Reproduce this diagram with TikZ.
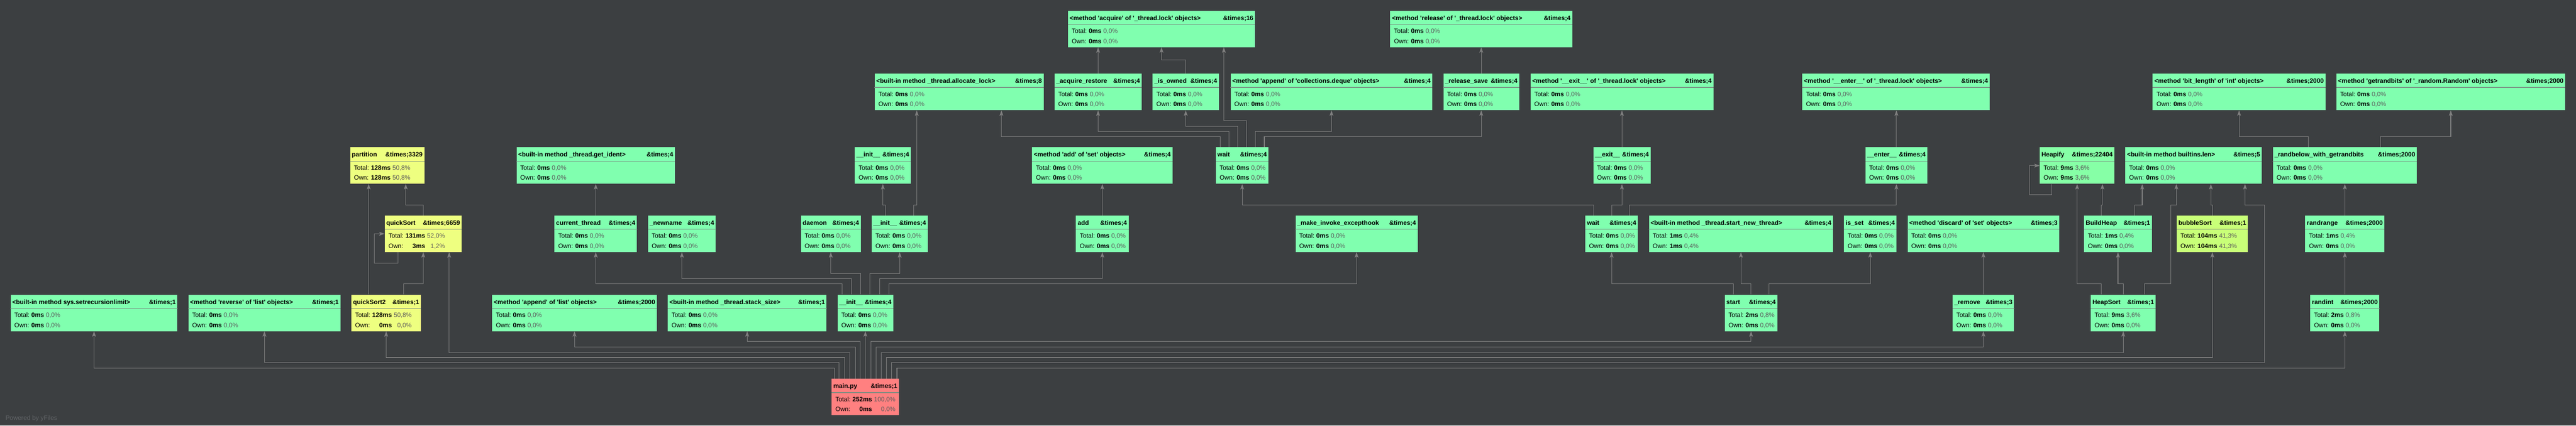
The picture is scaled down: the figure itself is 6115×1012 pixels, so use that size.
\documentclass[tikz,border=0pt]{standalone}
\usepackage{fontspec}
\usetikzlibrary{arrows.meta}
\newfontfamily\uifont{Liberation Sans}
\definecolor{bg}{HTML}{3C3F41}
\definecolor{gn}{HTML}{80FFAF}
\definecolor{yl}{HTML}{EEFF80}
\definecolor{yg}{HTML}{C8FF78}
\definecolor{hg}{HTML}{86FFA6}
\definecolor{rd}{HTML}{FF8080}
\definecolor{ln}{HTML}{808080}
\definecolor{pc}{HTML}{5C5C5C}
\definecolor{sp}{HTML}{7A8C80}
\definecolor{wm}{HTML}{606366}

\newcommand\statrows[4]{\begin{tabular}[t]{@{}l@{\hspace{4.5pt}}r@{\hspace{4.5pt}}r@{}}Total: & \textbf{#1} & \textcolor{pc}{#2\%}\\[7pt] Own: & \textbf{#3} & \textcolor{pc}{#4\%}\end{tabular}}
\newcommand\nost{{0ms}{0,0}{0ms}{0,0}}
\newcommand\callnode[7][fn]{%
  \node[#1, minimum width=#4pt] (#2) at (#3) {};
  \node[hd, anchor=base west] at ([shift={(4pt,-23pt)}]#2.north west) {#5};
  \node[hd, anchor=base east] at ([shift={(-4pt,-23pt)}]#2.north east) {\&times;#6};
  \draw[hsep] ([yshift=-33pt]#2.north west) -- ([yshift=-33pt]#2.north east);
  \node[bd, anchor=base west] at ([shift={(9pt,-54pt)}]#2.north west) {\expandafter\statrows#7};
}

\begin{document}
\begin{tikzpicture}[x=1pt, y=-1pt, >={Stealth[length=13pt,width=9pt,inset=3pt]},
    fn/.style={rectangle, fill=gn, minimum height=87pt, inner sep=0pt, anchor=north west},
    fy/.style={fn, fill=yl}, fb/.style={fn, fill=yg}, fh/.style={fn, fill=hg}, fr/.style={fn, fill=rd},
    hd/.style={font=\uifont\fontsize{15}{18}\selectfont\bfseries, text=black},
    bd/.style={font=\uifont\fontsize{15}{17}\selectfont, text=black},
    hsep/.style={draw=sp, line width=1.5pt},
    call/.style={draw=ln, line width=1.3pt, ->}]
  \tikzstyle{every node}=[inner sep=0pt]
  \fill[bg] (0,0) rectangle (6115,1012);
  \useasboundingbox (0,0) rectangle (6115,1012);

  \callnode{acquire}{2535,25}{444}{<method 'acquire' of '\_thread.lock' objects>}{16}{\nost}
  \callnode{release}{3300,25}{432}{<method 'release' of '\_thread.lock' objects>}{4}{\nost}

  \callnode{alloc}{2076,175}{401}{<built-in method \_thread.allocate\_lock>}{8}{\nost}
  \callnode{acqrest}{2503,175}{207}{\_acquire\_restore}{4}{\nost}
  \callnode{isowned}{2736,175}{157}{\_is\_owned}{4}{\nost}
  \callnode{appdeque}{2921,175}{479}{<method 'append' of 'collections.deque' objects>}{4}{\nost}
  \callnode{relsave}{3426,175}{180}{\_release\_save}{4}{\nost}
  \callnode{exitm}{3633,175}{434}{<method '\_\_exit\_\_' of '\_thread.lock' objects>}{4}{\nost}
  \callnode{enterm}{4278,175}{445}{<method '\_\_enter\_\_' of '\_thread.lock' objects>}{4}{\nost}
  \callnode{bitlen}{5110,175}{410}{<method 'bit\_length' of 'int' objects>}{2000}{\nost}
  \callnode{getrand}{5546,175}{543}{<method 'getrandbits' of '\_random.Random' objects>}{2000}{\nost}

  \callnode[fy]{partition}{831,350}{176}{partition}{3329}{{128ms}{50,8}{128ms}{50,8}}
  \callnode{getident}{1226,350}{376}{<built-in method \_thread.get\_ident>}{4}{\nost}
  \callnode{initC}{2029,350}{133}{\_\_init\_\_}{4}{\nost}
  \callnode{addset}{2450,350}{333}{<method 'add' of 'set' objects>}{4}{\nost}
  \callnode{waitC}{2886,350}{125}{wait}{4}{\nost}
  \callnode{exitC}{3782,350}{136}{\_\_exit\_\_}{4}{\nost}
  \callnode{enterC}{4428,350}{147}{\_\_enter\_\_}{4}{\nost}
  \callnode[fh]{heapify}{4842,350}{177}{Heapify}{22404}{{9ms}{3,6}{9ms}{3,6}}
  \callnode{blen}{5045,350}{324}{<built-in method builtins.len>}{5}{\nost}
  \callnode{randbelow}{5395,350}{342}{\_randbelow\_with\_getrandbits}{2000}{\nost}

  \callnode[fy]{qs}{913,512}{183}{quickSort}{6659}{{131ms}{52,0}{3ms}{1,2}}
  \callnode{curthread}{1316,512}{196}{current\_thread}{4}{\nost}
  \callnode{newname}{1538,512}{161}{\_newname}{4}{\nost}
  \callnode{daemon}{1901,512}{142}{daemon}{4}{\nost}
  \callnode{initD}{2069,512}{133}{\_\_init\_\_}{4}{\nost}
  \callnode{add}{2554,512}{125}{add}{4}{\nost}
  \callnode{hook}{3075,512}{290}{\_make\_invoke\_excepthook}{4}{\nost}
  \callnode{waitD}{3763,512}{125}{wait}{4}{\nost}
  \callnode{newthread}{3914,512}{437}{<built-in method \_thread.start\_new\_thread>}{4}{{1ms}{0,4}{1ms}{0,4}}
  \callnode{isset}{4377,512}{125}{is\_set}{4}{\nost}
  \callnode{discard}{4528,512}{360}{<method 'discard' of 'set' objects>}{3}{\nost}
  \callnode{buildheap}{4947,512}{161}{BuildHeap}{1}{{1ms}{0,4}{0ms}{0,0}}
  \callnode[fb]{bubble}{5167,512}{169}{bubbleSort}{1}{{104ms}{41,3}{104ms}{41,3}}
  \callnode{randrange}{5472,512}{188}{randrange}{2000}{{1ms}{0,4}{0ms}{0,0}}

  \callnode{setrec}{25,700}{396}{<built-in method sys.setrecursionlimit>}{1}{\nost}
  \callnode{reverse}{447,700}{361}{<method 'reverse' of 'list' objects>}{1}{\nost}
  \callnode[fy]{qs2}{834,700}{165}{quickSort2}{1}{{128ms}{50,8}{0ms}{0,0}}
  \callnode{applist}{1168,700}{391}{<method 'append' of 'list' objects>}{2000}{\nost}
  \callnode{stacksize}{1585,700}{377}{<built-in method \_thread.stack\_size>}{1}{\nost}
  \callnode{initE}{1988,700}{132}{\_\_init\_\_}{4}{\nost}
  \callnode{start}{4094,700}{125}{start}{4}{{2ms}{0,8}{0ms}{0,0}}
  \callnode{remove}{4635,700}{146}{\_remove}{3}{\nost}
  \callnode{heapsort}{4963,700}{154}{HeapSort}{1}{{9ms}{3,6}{0ms}{0,0}}
  \callnode{randint}{5484,700}{164}{randint}{2000}{{2ms}{0,8}{0ms}{0,0}}

  \callnode[fr]{main}{1974,900}{160}{main.py}{1}{{252ms}{100,0}{0ms}{0,0}}

  \node[font=\uifont\fontsize{15}{18}\selectfont, text=wm, anchor=base west] (yfiles) at (13,998) {Powered by yFiles};

  \draw[call] ([xshift=-74pt]main.north) -- ++(0,-25) -| (setrec.south);
  \draw[call] ([xshift=-62pt]main.north) -- ++(0,-38) -| (reverse.south);
  \draw[call] ([xshift=-49pt]main.north) -- ++(0,-50) -| (qs2.south);
  \draw[call] ([xshift=-37pt]main.north) -- ++(0,-62) -| ([xshift=61.5pt]qs.south);
  \draw[call] ([xshift=-24pt]main.north) -- ++(0,-75) -| (applist.south);
  \draw[call] ([xshift=-12pt]main.north) -- ++(0,-88) -| (stacksize.south);
  \draw[call] (main.north) -- (initE.south);
  \draw[call] ([xshift=13pt]main.north) -- ++(0,-88) -| (start.south);
  \draw[call] ([xshift=25pt]main.north) -- ++(0,-75) -| (remove.south);
  \draw[call] ([xshift=38pt]main.north) -- ++(0,-62) -| (heapsort.south);
  \draw[call] ([xshift=50pt]main.north) -- ++(0,-50) -| (bubble.south);
  \draw[call] ([xshift=62pt]main.north) -- ++(0,-38) -| ([xshift=168pt,yshift=-50pt]blen.south) -| ([xshift=122pt]blen.south);
  \draw[call] ([xshift=75pt]main.north) -- ++(0,-25) -| (randint.south);

  \draw[call] ([xshift=-55pt]initE.north) -- ++(0,-25) -| (curthread.south);
  \draw[call] ([xshift=-33pt]initE.north) -- ++(0,-38) -| (newname.south);
  \draw[call] ([xshift=-11pt]initE.north) -- ++(0,-50) -| (daemon.south);
  \draw[call] ([xshift=11pt]initE.north) -- ++(0,-50) -| (initD.south);
  \draw[call] ([xshift=34pt]initE.north) -- ++(0,-38) -| (add.south);
  \draw[call] ([xshift=56pt]initE.north) -- ++(0,-25) -| (hook.south);

  \draw[call] ([xshift=-33.5pt]initD.north) -- ++(0,-25) -| (initC.south);
  \draw[call] ([xshift=33.5pt]initD.north) -- ++(0,-25) -| ([xshift=-100.5pt]alloc.south);
  \draw[call] (curthread.north) -- (getident.south);
  \draw[call] (add.north) -- (addset.south);

  \draw[call] ([xshift=-41.5pt]qs2.north) -- ([xshift=-44pt]partition.south);
  \draw[call] ([xshift=41.5pt]qs2.north) -- ++(0,-25) -| (qs.south);
  \draw[call] (qs.north) -- ++(0,-25) -| ([xshift=44pt]partition.south);
  \draw[call] ([xshift=-60pt]qs.south) -- ++(0,26) -| ([xshift=-25pt]qs.west) -- (qs.west);

  \draw[call] ([xshift=-52.5pt]waitC.north) -- ++(0,-25) -| ([xshift=100.5pt]alloc.south);
  \draw[call] ([xshift=-31.5pt]waitC.north) -- ++(0,-38) -| (acqrest.south);
  \draw[call] ([xshift=-10.5pt]waitC.north) -- ++(0,-50) -| (isowned.south);
  \draw[call] ([xshift=10.5pt]waitC.north) -- ++(0,-63) -| ([xshift=148pt]acquire.south);
  \draw[call] ([xshift=31.5pt]waitC.north) -- ++(0,-38) -| (appdeque.south);
  \draw[call] ([xshift=52.5pt]waitC.north) -- ++(0,-25) -| (relsave.south);
  \draw[call] (acqrest.north) -- (acqrest.north |- acquire.south);
  \draw[call] (isowned.north) -- ++(0,-32) -| (acquire.south);
  \draw[call] (relsave.north) -- (release.south);
  \draw[call] (exitC.north) -- (exitm.south);
  \draw[call] (enterC.north) -- (enterC.north |- enterm.south);

  \draw[call] ([xshift=-42.5pt]waitD.north) -- ++(0,-25) -| (waitC.south);
  \draw[call] (waitD.north) -- ++(0,-25) -| (exitC.south);
  \draw[call] ([xshift=42.5pt]waitD.north) -- ++(0,-25) -| (enterC.south);
  \draw[call] ([xshift=-42.5pt]start.north) -- ++(0,-25) -| (waitD.south);
  \draw[call] (start.north) -- ++(0,-25) -| (newthread.south);
  \draw[call] ([xshift=42.5pt]start.north) -- ++(0,-25) -| (isset.south);
  \draw[call] (remove.north) -- (discard.south);

  \draw[call] ([xshift=-52pt]heapsort.north) -- ++(0,-25) -| (heapify.south);
  \draw[call] (heapsort.north) -- ++(0,-25) -| (buildheap.south);
  \draw[call] ([xshift=51pt]heapsort.north) -- ++(0,-25) -| ([xshift=-54pt,yshift=-50pt]blen.south) -| ([xshift=-41pt]blen.south);
  \draw[call] ([xshift=-39.5pt]buildheap.north) -- ++(0,-25) -| ([xshift=60pt]heapify.south);
  \draw[call] ([xshift=39.5pt]buildheap.north) -- ++(0,-25) -| ([xshift=-122pt]blen.south);
  \draw[call] (bubble.north) -- ++(0,-25) -| ([xshift=41pt]blen.south);
  \draw[call] ([xshift=-60pt]heapify.south) -- ++(0,25) -| ([xshift=-24pt]heapify.west) -- (heapify.west);

  \draw[call] (randint.north) -- (randrange.south);
  \draw[call] (randrange.north) -- (randbelow.south);
  \draw[call] ([xshift=-87pt]randbelow.north) -- ++(0,-25) -| (bitlen.south);
  \draw[call] ([xshift=85pt]randbelow.north) -- ++(0,-25) -| (getrand.south);
\end{tikzpicture}
\end{document}
